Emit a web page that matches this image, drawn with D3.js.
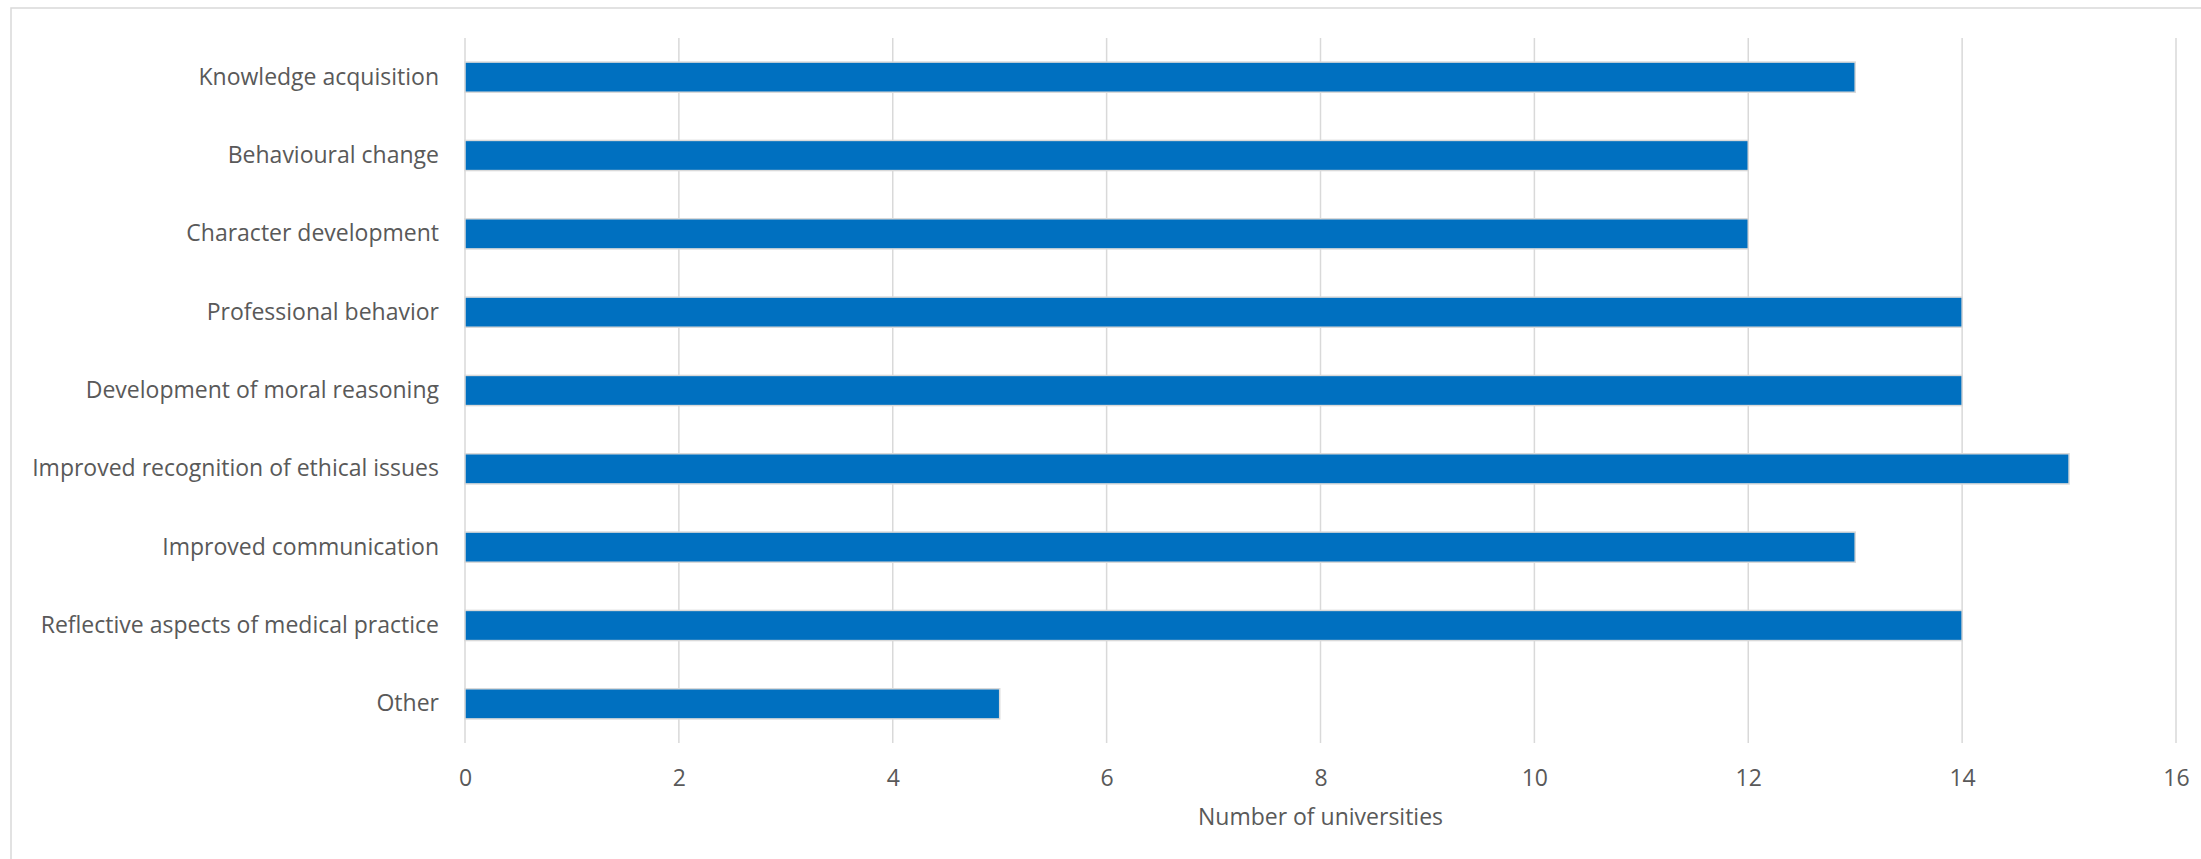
<!DOCTYPE html>
<html>
<head>
<meta charset="utf-8">
<script src="https://cdn.jsdelivr.net/npm/d3@7"></script>
<style>
  html, body { margin: 0; padding: 0; background: #fff; }
  svg { display: block; }
  text { font-family: "Open Sans", sans-serif; fill: #595959; }
</style>
</head>
<body>
<svg id="chart" width="2201" height="859"></svg>
<script>
const categories = [
  "Knowledge acquisition",
  "Behavioural change",
  "Character development",
  "Professional behavior",
  "Development of moral reasoning",
  "Improved recognition of ethical issues",
  "Improved communication",
  "Reflective aspects of medical practice",
  "Other"
];
const values = [13, 12, 12, 14, 14, 15, 13, 14, 5];
const xTicks = [0, 2, 4, 6, 8, 10, 12, 14, 16];
const xTitle = "Number of universities";

const svg = d3.select("#chart");
const W = 2201, H = 859;
const plot = { left: 465, right: 2176, top: 38, bottom: 743 };
const FS = 23;

// outer chart border
svg.append("rect")
  .attr("x", 11).attr("y", 8)
  .attr("width", W + 20).attr("height", H + 20)
  .attr("fill", "none").attr("stroke", "#d9d9d9").attr("stroke-width", 1.5);

const x = d3.scaleLinear().domain([0, 16]).range([plot.left, plot.right]);
const y = d3.scaleBand().domain(categories).range([plot.top, plot.bottom]).paddingInner(0.615).paddingOuter(0.3075);

// gridlines
svg.append("g").selectAll("line").data(xTicks).join("line")
  .attr("x1", d => x(d)).attr("x2", d => x(d))
  .attr("y1", plot.top).attr("y2", plot.bottom)
  .attr("stroke", "#d9d9d9").attr("stroke-width", 1.5);

// bars
svg.append("g").selectAll("rect").data(values).join("rect")
  .attr("x", x(0))
  .attr("y", (d, i) => y(categories[i]))
  .attr("width", d => x(d) - x(0))
  .attr("height", y.bandwidth())
  .attr("fill", "#0070c0")
  .attr("stroke", "#d9d9d9").attr("stroke-width", 1.5);

// y axis (category labels)
const yAxis = d3.axisLeft(y).tickSize(0).tickPadding(26);
const gy = svg.append("g").attr("transform", `translate(${plot.left},0)`).call(yAxis);
gy.select(".domain").remove();
gy.selectAll("text")
  .attr("font-family", "Open Sans, sans-serif")
  .attr("font-size", FS)
  .attr("fill", "#595959");

// x axis
const xAxis = d3.axisBottom(x).tickValues(xTicks).tickSize(0).tickPadding(0).tickFormat(d3.format("d"));
const gx = svg.append("g").attr("transform", `translate(0,${plot.bottom})`).call(xAxis);
gx.select(".domain").remove();
gx.selectAll("text")
  .attr("font-family", "Open Sans, sans-serif")
  .attr("font-size", FS)
  .attr("fill", "#595959")
  .attr("y", 35).attr("dy", "0.35em");

// axis title
svg.append("text")
  .attr("x", (plot.left + plot.right) / 2)
  .attr("y", 817).attr("dy", "0.35em")
  .attr("text-anchor", "middle")
  .attr("font-size", FS)
  .text(xTitle);
</script>
</body>
</html>
